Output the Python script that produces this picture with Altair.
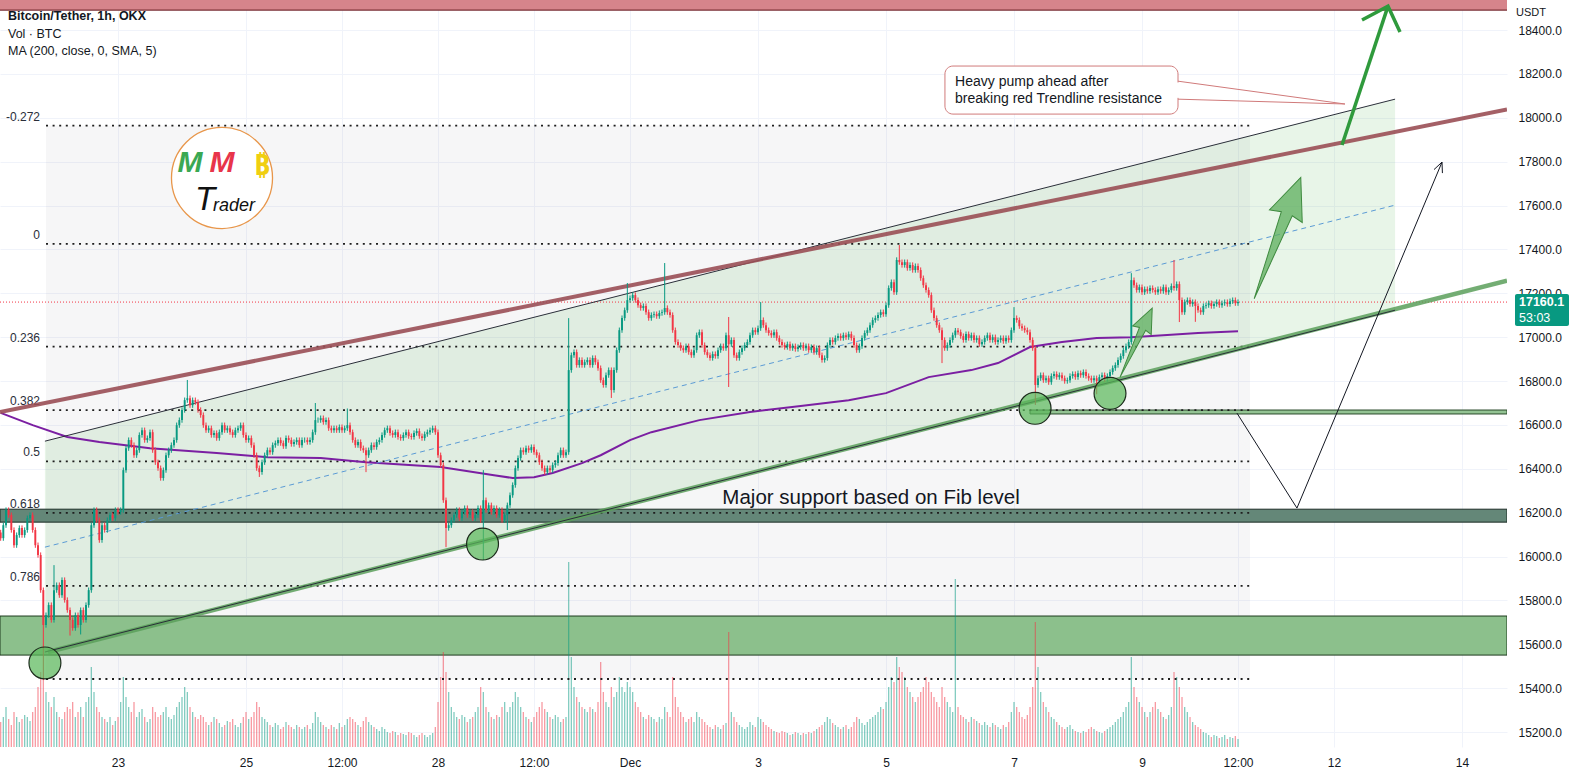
import altair as alt
import pandas as pd

alt.data_transformers.disable_max_rows()

# ---------------- candles: hourly closes (USDT), hour 0 = 23 Nov 00:00 ----------------
FIRST_HOUR = -44          # first visible candle: 21 Nov 04:00
FIRST_OPEN = 16110
WICK = 12                 # default wick length when no notable wick is read
closes = [
    16084, 16143, 16212, 16189, 16121, 16052, 16098, 16130, 16098, 16121, 16175, 16189, 16121, 16052, 16007, 15847, 15688,
    15733, 15779, 15711, 15847, 15870, 15824, 15893, 15802, 15756, 15711, 15674, 15733, 15688, 15756, 15711, 15779, 15847,
    16143, 16212, 16166, 16075, 16143, 16121, 16166, 16189, 16175, 16212,
    16203, 16212, 16394, 16494, 16531, 16508, 16462, 16485, 16554, 16576, 16531, 16540, 16567, 16485, 16430, 16403, 16358,
    16394, 16462, 16485, 16508, 16531, 16599, 16622, 16668, 16713, 16722, 16690, 16713, 16704, 16668, 16645, 16599, 16576,
    16585, 16554, 16563, 16540, 16567, 16599, 16576, 16585, 16567, 16554, 16576, 16585, 16599, 16554, 16531, 16540, 16508,
    16462, 16403, 16385, 16430, 16462, 16485, 16476, 16508, 16517, 16531, 16517, 16503, 16540, 16531, 16513, 16522, 16531, 16508, 16531,
    16531, 16522, 16531, 16567, 16622, 16622, 16631, 16613, 16622, 16585, 16576, 16585, 16576, 16590, 16576, 16585, 16599,
    16567, 16531, 16508, 16522, 16494, 16485, 16462, 16485, 16508, 16499, 16522, 16531, 16554, 16576, 16585, 16563, 16554,
    16567, 16545, 16540, 16554, 16567, 16549, 16545, 16563, 16572, 16549, 16540, 16558, 16567, 16576, 16585, 16567,
    16462, 16417, 16257, 16130, 16143, 16166, 16189, 16212, 16175, 16203, 16221, 16189, 16203, 16175, 16189, 16221, 16166,
    16257, 16212, 16234, 16203, 16221, 16189, 16212, 16166, 16189, 16234, 16280, 16326, 16403, 16449, 16485, 16476, 16494,
    16485, 16499, 16476, 16462, 16430, 16403, 16385, 16403, 16394, 16417, 16426, 16462, 16485, 16462, 16476,
    16850, 16918, 16932, 16873, 16896, 16873, 16886, 16896, 16873, 16905, 16886, 16859, 16804, 16782, 16827, 16850, 16759,
    16850, 16941, 17032, 17087, 17123, 17169,
    17178, 17192, 17169, 17146, 17133, 17142, 17114, 17087, 17101, 17105, 17096, 17110, 17114, 17133, 17114, 17101,
    17032, 16978, 16964, 16950, 16941, 16959, 16932, 16918, 16941, 17009, 17023, 16964, 16932, 16918, 16905, 16923, 16914,
    16941, 16959, 16950, 17009, 16968, 16987, 16918, 16905, 16932, 16950, 16964, 16978, 17009, 17032, 17023, 17041, 17078,
    17055, 17032, 17019, 17009, 17023, 16996, 16978, 16964, 16955, 16968, 16950, 16959, 16946, 16955, 16964, 16950, 16959,
    16941, 16955, 16932, 16950, 16918, 16896, 16905, 16964, 16987, 16978, 16996, 17005, 16996, 17009, 17000, 17014, 16996,
    16964, 16941, 16959, 16996, 17019, 17032, 17055, 17078, 17087, 17101, 17114, 17105, 17146, 17224, 17251, 17205,
    17352, 17342, 17329, 17342, 17315, 17329, 17306, 17324, 17306, 17269, 17237, 17215, 17192, 17123, 17087, 17055, 17032,
    16987, 16950, 16964, 16987, 17009, 17030, 17023, 17005, 16987, 17014, 16996, 17009, 16987, 16996, 16968, 16978, 16996,
    17009, 16987, 17000, 16978, 16987, 16996, 16982, 16996, 16987, 17032, 17087, 17078, 17050, 17041, 17032, 17023, 16987, 16950,
    16782, 16813, 16827, 16804, 16813, 16795, 16823, 16832, 16818, 16827, 16813, 16800, 16804, 16823, 16832, 16818, 16836,
    16827, 16841, 16823, 16813, 16804, 16813, 16800, 16818, 16827, 16809, 16823, 16841, 16859, 16873, 16896, 16914, 16941, 16959, 16978,
    17260, 17237, 17215, 17228, 17205, 17219, 17210, 17224, 17215, 17205, 17219, 17210, 17228, 17205, 17215, 17233, 17224, 17242,
    17169, 17114, 17160, 17169, 17151, 17160, 17142, 17123, 17114, 17142, 17146, 17155, 17142, 17151, 17160, 17146, 17155, 17160,
    17151, 17164, 17169, 17155, 17160.1,
]
# notable wick extremes (hour -> price)
high_wicks = {-24: 15961, 26: 16805, 74: 16700, 86: 16675, 137: 16394, 169: 17087, 191: 17247,
              205: 17338, 229: 17092, 241: 17160, 293: 17420, 336: 17137, 380: 17292, 396: 17352}
low_wicks = {-28: 15437, -18: 15640, -14: 15645, 53: 16363, 93: 16385, 123: 16043, 137: 15984,
             146: 16121, 185: 16723, 229: 16773, 309: 16882, 344: 16691, 367: 16740, 398: 17069, 404: 17070}
# volume (relative bar heights)
volumes = [
    25, 30, 40, 28, 22, 35, 30, 25, 28, 32, 30, 26, 35, 40, 60, 75, 70,
    55, 45, 40, 50, 35, 30, 28, 35, 40, 38, 45, 30, 35, 40, 30, 45, 50,
    80, 55, 40, 35, 30, 28, 25, 30, 22, 26,
    30, 45, 70, 50, 40, 35, 45, 30, 35, 38, 30, 25, 28, 40, 35, 30, 32,
    35, 40, 30, 28, 32, 40, 45, 50, 60, 55, 40, 35, 30, 28, 32, 30, 25,
    22, 25, 30, 28, 24, 20, 22, 26, 25, 28, 22, 20, 24, 30, 35, 28, 30,
    35, 45, 40, 30, 28, 25, 22, 20, 24, 22, 18, 20, 25, 22, 20, 18, 22, 20, 18,
    20, 22, 18, 24, 35, 30, 25, 22, 20, 18, 22, 20, 18, 24, 20, 22, 28,
    30, 28, 25, 22, 20, 26, 30, 25, 22, 20, 18, 16, 20, 18, 15, 14, 16,
    15, 12, 14, 13, 12, 15, 14, 12, 10, 12, 14, 12, 10, 12, 14, 20,
    45, 70, 95, 75, 55, 40, 35, 30, 28, 32, 30, 25, 28, 30, 35, 40, 60,
    55, 40, 35, 30, 28, 32, 30, 40, 45, 35, 40, 45, 55, 50, 40, 35, 30,
    28, 25, 30, 35, 40, 45, 38, 35, 30, 28, 32, 30, 25, 28, 30,
    185, 90, 60, 50, 45, 40, 38, 35, 40, 38, 35, 45, 85, 55, 45, 40, 60,
    50, 55, 70, 60, 55, 65,
    60, 55, 45, 40, 35, 30, 28, 32, 30, 28, 25, 30, 28, 40, 35, 30,
    70, 50, 40, 35, 30, 25, 28, 30, 25, 35, 30, 28, 25, 22, 20, 18, 22,
    20, 18, 22, 24, 115, 35, 30, 25, 22, 20, 18, 20, 25, 22, 20, 30, 28,
    25, 22, 20, 18, 16, 15, 14, 16, 15, 14, 12, 13, 15, 14, 12, 14, 13,
    15, 14, 16, 18, 20, 22, 25, 30, 28, 24, 22, 20, 18, 20, 22, 18, 20,
    25, 30, 28, 24, 22, 25, 28, 30, 32, 35, 40, 38, 45, 60, 70, 65,
    90, 80, 75, 70, 60, 55, 50, 45, 50, 55, 60, 70, 65, 55, 50, 45, 40,
    60, 50, 45, 40, 35, 168, 40, 32, 30, 28, 25, 30, 28, 26, 24, 22, 25,
    22, 20, 24, 22, 20, 18, 22, 20, 25, 35, 45, 40, 35, 30, 28, 32, 40, 60,
    125, 80, 55, 45, 40, 35, 30, 28, 25, 22, 20, 18, 20, 22, 18, 16, 15,
    14, 16, 15, 18, 20, 18, 16, 15, 14, 16, 18, 20, 22, 25, 28, 30, 35, 40, 45,
    90, 60, 50, 45, 40, 35, 30, 35, 40, 45, 38, 35, 30, 28, 32, 40, 75, 70,
    60, 50, 40, 35, 30, 25, 22, 20, 18, 15, 14, 12, 10, 12, 11, 9, 10, 12, 8, 10, 9, 11, 8,
]

# ---------------- MA(200) line ----------------
ma_hours = [-44, -32, -19, -7, 12, 37, 56, 76, 93, 121, 141, 148, 156, 163, 174, 181, 192, 200, 218,
            237, 256, 274, 288, 304, 320, 330, 342, 354, 367, 380, 392, 405, 420]
ma_values = [16655, 16599, 16545, 16522, 16494, 16472, 16453, 16449, 16430, 16408, 16371, 16358, 16362,
             16381, 16426, 16462, 16531, 16567, 16622, 16659, 16686, 16713, 16745, 16818, 16850, 16882,
             16955, 16978, 16996, 17000, 17009, 17019, 17027]

# ---------------- drawings ----------------
fib_top, fib_bottom = 17425, 15442
fib_ratios = [-0.272, 0, 0.236, 0.382, 0.5, 0.618, 0.786, 1]
fib_labels = ["-0.272", "0", "0.236", "0.382", "0.5", "0.618", "0.786", ""]
fib_span = [-27, 424.5]

chan_hours = [-27.4, 478.9]
chan_upper = [16526, 18085]
chan_mid = [16043, 17602]
chan_lower = [15565, 17123]

red_trend_hours, red_trend_prices = [-44.25, 520.87], [16659, 18038]
green_trend_hours, green_trend_prices = [-26.25, 520.87], [15565, 17258]

zone_top = [18491, 18537]
zone_green = [15551, 15729]
zone_dark = [16157, 16216]
zone_thin = [16650, 16668]
zone_thin_start = 342

circle_hours = [-27.4, 136.7, 343.9, 372]
circle_prices = [15515, 16057, 16676, 16744]

block_arrow_hours = [434.8, 381.8]
block_arrow_prices = [17452, 16975]
block_arrow_angles = [21, 25]
block_arrow_lengths = [130, 76]

pump_arrow_hours = [459, 476.25, 466.5, 476.25, 480.75]
pump_arrow_prices = [17876, 18509, 18446, 18509, 18391]
pump_arrow_seg = [0, 0, 1, 1, 1]

path_hours = [419.6, 442.1, 496.5, 493.5, 496.5, 496.65]
path_prices = [16654, 16221, 17798, 17764, 17798, 17748]
path_seg = [0, 0, 0, 1, 1, 1]

callout_box = {"h0": 310.1, "h1": 397.5, "p0": 18017, "p1": 18236}
callout_tail_hours = [397.5, 460.1, 397.5]
callout_tail_prices = [18167, 18063, 18085]
callout_lines = ["Heavy pump ahead after", "breaking red Trendline resistance"]
callout_line_prices = [18163, 18086]

last_price = 17160.1
x_tick_hours = [0, 48, 84, 120, 156, 192, 240, 288, 336, 384, 420, 456, 504]
x_tick_labels = ["23", "25", "12:00", "28", "12:00", "Dec", "3", "5", "7", "9", "12:00", "12", "14"]
y_ticks = list(range(15200, 18401, 200))

# ---------------- styling ----------------
UP, DN = "#089981", "#f23645"
FONT = "Liberation Sans"
TXT = "#131722"
GRID = "#f0f3fa"
X_DOMAIN = [-44.25, 520.87]
Y_DOMAIN = [15132, 18537]
W, H = 1507, 747

XS = alt.Scale(domain=X_DOMAIN, nice=False, zero=False, padding=0)
YS = alt.Scale(domain=Y_DOMAIN, nice=False, zero=False, padding=0)
label_expr = ("[" + ",".join(f"'{l}'" for l in x_tick_labels) + "][indexof(["
              + ",".join(str(v) for v in x_tick_hours) + "], datum.value)]")
XAX = alt.Axis(values=x_tick_hours, labelExpr=label_expr, grid=True, gridColor=GRID, domain=False,
               ticks=False, labelPadding=10, labelFontSize=12, labelColor=TXT, labelFont=FONT,
               labelFlush=False, labelOverlap=False)
YAX = alt.Axis(orient="right", values=y_ticks, labelExpr="format(datum.value, '.1f')", grid=True,
               gridColor=GRID, domain=False, ticks=False, labelPadding=11, labelFontSize=12,
               labelColor=TXT, labelFont=FONT, labelOverlap=False)


def X(f):
    return alt.X(f, type="quantitative", scale=XS, axis=XAX, title=None)


def Y(f, axis=True):
    return alt.Y(f, type="quantitative", scale=YS, axis=YAX if axis else None, title=None)


# ---------------- tables ----------------
rows = []
prev = FIRST_OPEN
for i, c in enumerate(closes):
    h = FIRST_HOUR + i
    o = prev
    hi = max(high_wicks.get(h, max(o, c) + WICK), o, c)
    lo = min(low_wicks.get(h, min(o, c) - WICK), o, c)
    rows.append({"h": h, "open": o, "close": c, "high": hi, "low": lo,
                 "dir": "up" if c >= o else "down", "vol": volumes[i]})
    prev = c
candles = pd.DataFrame(rows)
dir_color = alt.Color("dir:N", scale=alt.Scale(domain=["up", "down"], range=[UP, DN]), legend=None)

fib_df = pd.DataFrame({
    "r": fib_ratios,
    "p": [fib_top - r * (fib_top - fib_bottom) for r in fib_ratios],
    "label": fib_labels,
})
fib_df["h0"], fib_df["h1"] = fib_span[0], fib_span[1]
fib_df["lh"] = -29.25

# ---------------- background layers ----------------
def zone(lo_hi, h0, color, stroke=None, opacity=1.0):
    df = pd.DataFrame({"h0": [h0], "h1": [X_DOMAIN[1]], "p0": [lo_hi[0]], "p1": [lo_hi[1]]})
    kw = dict(color=color, opacity=opacity, clip=True)
    if stroke:
        kw.update(stroke=stroke, strokeWidth=1)
    return alt.Chart(df).mark_rect(**kw).encode(x=X("h0"), x2="h1", y=Y("p0", False), y2="p1")

bg_fib = alt.Chart(pd.DataFrame({"h0": [fib_span[0]], "h1": [fib_span[1]],
                                 "p0": [fib_bottom], "p1": [fib_df["p"].max()]})).mark_rect(
    color="#787b86", opacity=0.065).encode(x=X("h0"), x2="h1", y=Y("p0", False), y2="p1")

chan_df = pd.DataFrame({"h": chan_hours, "up": chan_upper, "mid": chan_mid, "lo": chan_lower})
bg_chan = alt.Chart(chan_df).mark_area(color="#4caf50", opacity=0.13).encode(
    x=X("h"), y=Y("up", False), y2="lo")

top_edge = alt.Chart(pd.DataFrame({"h0": [X_DOMAIN[0]], "h1": [X_DOMAIN[1]], "p": [zone_top[0]]})).mark_rule(
    color="#7a2e34", strokeWidth=1.2).encode(x=X("h0"), x2="h1", y=Y("p", False))

bg = alt.layer(
    zone(zone_top, X_DOMAIN[0], "#d6848b"),
    top_edge,
    bg_fib,
    bg_chan,
    zone(zone_green, X_DOMAIN[0], "#8cc08c", stroke="#1d3a1d"),
    zone(zone_dark, X_DOMAIN[0], "#648778", stroke="#1c2b25"),
    zone(zone_thin, zone_thin_start, "#93c393", stroke="#2a4a2a"),
)

# ---------------- volume ----------------
vol = alt.Chart(candles).mark_bar(size=1.3, opacity=0.5, orient="vertical").encode(
    x=X("h"),
    y=alt.Y("vol:Q", scale=alt.Scale(domain=[0, H], nice=False, zero=True, padding=0), axis=None,
            title=None),
    color=dir_color,
)

# ---------------- foreground layers ----------------
fib_lines = alt.Chart(fib_df).mark_rule(color="#1e1e1e", strokeWidth=1.8, strokeDash=[2, 4.6]).encode(
    x=X("h0"), x2="h1", y=Y("p"))
fib_text = alt.Chart(fib_df).mark_text(align="right", baseline="middle", dy=-9, fontSize=12,
                                      font=FONT, color="#2a2e39").encode(x=X("lh"), y=Y("p"), text="label:N")

last_line = alt.Chart(pd.DataFrame({"h": X_DOMAIN, "p": [last_price, last_price]})).mark_line(
    color=DN, strokeWidth=1, strokeDash=[1, 2]).encode(x=X("h"), y=Y("p"))

ma_line = alt.Chart(pd.DataFrame({"h": ma_hours, "p": ma_values})).mark_line(
    color="#7b1fa2", strokeWidth=2).encode(x=X("h"), y=Y("p"))

chan_up = alt.Chart(chan_df).mark_line(color="#2a2e39", strokeWidth=1).encode(x=X("h"), y=Y("up"))
chan_lo = alt.Chart(chan_df).mark_line(color="#2a2e39", strokeWidth=1).encode(x=X("h"), y=Y("lo"))
chan_mid_l = alt.Chart(chan_df).mark_line(color="#5b9bd5", strokeWidth=1, strokeDash=[5, 4]).encode(
    x=X("h"), y=Y("mid"))

red_trend = alt.Chart(pd.DataFrame({"h": red_trend_hours, "p": red_trend_prices})).mark_line(
    color="#9a4f55", strokeWidth=4, opacity=0.9, clip=True).encode(x=X("h"), y=Y("p"))
green_trend = alt.Chart(pd.DataFrame({"h": green_trend_hours, "p": green_trend_prices})).mark_line(
    color="#5a9f5a", strokeWidth=4.5, opacity=0.85, clip=True).encode(x=X("h"), y=Y("p"))

wicks = alt.Chart(candles).mark_rule(strokeWidth=1).encode(x=X("h"), y=Y("low"), y2="high", color=dir_color)
bodies = alt.Chart(candles).mark_bar(size=1.9, orient="vertical").encode(
    x=X("h"), y=Y("open"), y2="close", color=dir_color)

circles = alt.Chart(pd.DataFrame({"h": circle_hours, "p": circle_prices})).mark_point(
    shape="circle", size=1018, filled=True, fill="#5cb85c", fillOpacity=0.72, opacity=1,
    stroke="#1c2b1c", strokeWidth=1.2).encode(x=X("h"), y=Y("p"))

ARROW_PATH = "M 0 1 L -0.09 -0.4 L -0.27 -0.36 L 0 -1 L 0.27 -0.36 L 0.09 -0.4 Z"
block_df = pd.DataFrame({"h": block_arrow_hours, "p": block_arrow_prices, "ang": block_arrow_angles,
                         "sz": [l * l for l in block_arrow_lengths]})
block_arrows = alt.Chart(block_df).mark_point(
    shape=ARROW_PATH, filled=True, fill="#5cae5c", fillOpacity=0.75, opacity=1,
    stroke="#3f8a3f", strokeWidth=1).encode(
    x=X("h"), y=Y("p"), angle=alt.Angle("ang:Q", scale=None),
    size=alt.Size("sz:Q", scale=None, legend=None))

pump_df = pd.DataFrame({"h": pump_arrow_hours, "p": pump_arrow_prices, "seg": pump_arrow_seg,
                        "o": range(len(pump_arrow_hours))})
pump_arrow = alt.Chart(pump_df).mark_line(color="#2f9a3c", strokeWidth=3.5, clip=False).encode(
    x=X("h"), y=Y("p"), detail="seg:N", order="o:Q")

path_df = pd.DataFrame({"h": path_hours, "p": path_prices, "seg": path_seg, "o": range(len(path_hours))})
proj_path = alt.Chart(path_df).mark_line(color="#131722", strokeWidth=1).encode(
    x=X("h"), y=Y("p"), detail="seg:N", order="o:Q")

box = alt.Chart(pd.DataFrame([callout_box])).mark_rect(
    fill="white", stroke="#d07a7a", strokeWidth=1, cornerRadius=8).encode(
    x=X("h0"), x2="h1", y=Y("p0"), y2="p1")
box_gap = alt.Chart(pd.DataFrame({"h": [callout_box["h1"]], "p0": [callout_tail_prices[2] + 6],
                                  "p1": [callout_tail_prices[0] - 6]})).mark_rule(
    color="white", strokeWidth=3).encode(x=X("h"), y=Y("p0"), y2="p1")
tail_df = pd.DataFrame({"h": callout_tail_hours, "p": callout_tail_prices, "o": [0, 1, 2]})
tail = alt.Chart(tail_df).mark_line(color="#d07a7a", strokeWidth=1).encode(
    x=X("h"), y=Y("p"), order="o:Q")
callout_text = alt.Chart(pd.DataFrame({"t": callout_lines, "p": callout_line_prices,
                                       "h": [callout_box["h0"] + 3.8] * 2})).mark_text(
    align="left", baseline="middle", fontSize=14, font=FONT, color=TXT).encode(
    x=X("h"), y=Y("p"), text="t:N")

major_text = alt.Chart(pd.DataFrame({"t": ["Major support based on Fib level"], "h": [282.4],
                                     "p": [16268]})).mark_text(
    align="center", baseline="middle", fontSize=20.5, font=FONT, color=TXT).encode(
    x=X("h"), y=Y("p"), text="t:N")


def px_text(txt, x, y, **kw):
    kw.setdefault("font", FONT)
    return alt.Chart(pd.DataFrame({"t": [txt]})).mark_text(**kw).encode(
        x=alt.value(x), y=alt.value(y), text="t:N")


one = pd.DataFrame({"a": [0]})
logo_circle = alt.Chart(one).mark_point(shape="circle", size=10207, filled=True, fill="white",
                                        opacity=1, stroke="#e8964a", strokeWidth=1.3).encode(
    x=alt.value(222), y=alt.value(178))
logo = [
    logo_circle,
    px_text("M", 190, 163, fontSize=30, fontStyle="italic", fontWeight="bold", color="#3aa853",
            align="center", baseline="middle"),
    px_text("M", 222, 163, fontSize=30, fontStyle="italic", fontWeight="bold", color="#e8354a",
            align="center", baseline="middle"),
    px_text("\u20bf", 262, 167, fontSize=28, fontWeight="bold", color="#f0cf10", align="center",
            baseline="middle", font="Noto Sans"),
    px_text("T", 205, 200, fontSize=33, fontStyle="italic", color="#111111", align="center",
            baseline="middle"),
    px_text("rader", 213, 206, fontSize=18, fontStyle="italic", color="#111111", align="left",
            baseline="middle"),
]

header = [
    px_text("Bitcoin/Tether, 1h, OKX", 8, 16, fontSize=12.5, fontWeight="bold", color=TXT,
            align="left", baseline="middle"),
    px_text("Vol \u00b7 BTC", 8, 34, fontSize=12.5, color=TXT, align="left", baseline="middle"),
    px_text("MA (200, close, 0, SMA, 5)", 8, 51, fontSize=12.5, color=TXT, align="left",
            baseline="middle"),
    px_text("USDT", 1516, 13, fontSize=11, color=TXT, align="left", baseline="middle"),
]

tag = [
    alt.Chart(one).mark_rect(color=UP, cornerRadius=2).encode(
        x=alt.value(1515), x2=alt.value(1569), y=alt.value(294), y2=alt.value(326)),
    px_text(f"{last_price:.1f}", 1519, 302, fontSize=12.5, fontWeight="bold", color="white",
            align="left", baseline="middle"),
    px_text("53:03", 1519, 318, fontSize=12.5, color="white", align="left", baseline="middle"),
]

fg = alt.layer(
    fib_lines, fib_text, last_line, ma_line, chan_up, chan_mid_l, red_trend, green_trend, chan_lo,
    wicks, bodies, circles, block_arrows, pump_arrow, proj_path,
    box, box_gap, tail, callout_text, major_text,
    *logo, *header, *tag,
)

chart = alt.layer(bg, vol, fg).resolve_scale(y="independent").properties(
    width=W, height=H,
    padding={"left": 0, "top": 0, "right": 1572 - W, "bottom": 778 - H},
    autosize=alt.AutoSizeParams(type="none"),
    background="white",
).configure_view(stroke=None)

chart.save("out.html", embed_options={"renderer": "svg", "actions": False})
